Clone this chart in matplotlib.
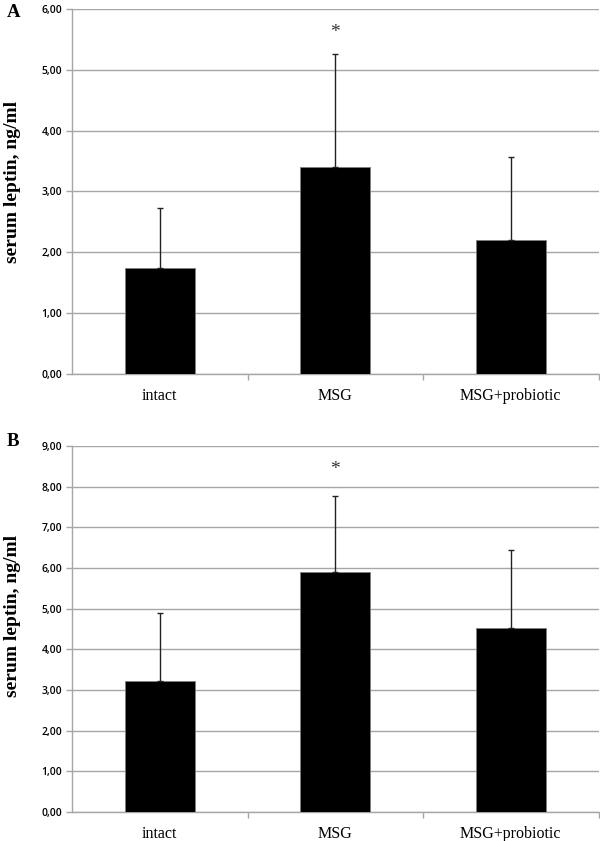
import numpy as np
import matplotlib.pyplot as plt
from matplotlib.ticker import FuncFormatter, FixedLocator

groups = ['intact', 'MSG', 'MSG+probiotic']

# panel A
mean_a = [1.75, 3.41, 2.21]
top_a = [2.73, 5.26, 3.57]   # top of error bar
# panel B
mean_b = [3.22, 5.90, 4.53]
top_b = [4.90, 7.76, 6.45]

star_a = 5.61
star_b = 8.43

fig = plt.figure(figsize=(6, 8.41), dpi=100)

def panel(rect, means, tops, ymax, star_y, letter, letter_y, label_y):
    ax = fig.add_axes(rect)
    x = np.arange(len(groups))
    err = np.array(tops) - np.array(means)
    ax.bar(x, means, width=0.40, color='black', edgecolor='#808080', linewidth=0.6, zorder=3)
    ax.errorbar(x, means, yerr=[np.zeros_like(err), err], fmt='none', ecolor='#222222',
                elinewidth=1.0, capsize=2.3, capthick=1.0, zorder=4)
    ax.text(1, star_y, '*', ha='center', va='center', fontsize=14,
            family='Liberation Serif', color='#333333')
    ax.set_xlim(-0.5, 2.5)
    ax.set_ylim(0, ymax)
    ax.set_yticks(np.arange(0, ymax + 0.01, 1))
    ax.yaxis.set_major_formatter(FuncFormatter(lambda v, p: f'{v:.2f}'.replace('.', ',')))
    ax.yaxis.grid(True, color='#a6a6a6', linewidth=1.0, zorder=0)
    ax.set_xticks(x)
    ax.set_xticklabels(groups, family='Liberation Serif', fontsize=11.5)
    ax.xaxis.set_minor_locator(FixedLocator([0.5, 1.5, 2.5]))
    ax.tick_params(axis='x', which='major', length=0, pad=10)
    ax.tick_params(axis='x', which='minor', length=4, color='#a6a6a6', width=1)
    ax.tick_params(axis='y', length=4, color='#a6a6a6', width=1, pad=3)
    for lab in ax.get_yticklabels():
        lab.set_family('Open Sans')
        lab.set_fontsize(7.5)
        lab.set_fontweight('semibold')
    for s in ['top', 'right']:
        ax.spines[s].set_visible(False)
    for s in ['left', 'bottom']:
        ax.spines[s].set_color('#a6a6a6')
        ax.spines[s].set_linewidth(1.0)
    fig.text(0.021, label_y, 'serum leptin, ng/ml', family='Liberation Serif',
             fontweight='bold', fontsize=14, rotation=90, ha='center', va='center')
    fig.text(0.012, letter_y, letter, family='Liberation Serif',
             fontweight='bold', fontsize=13.5, va='center', ha='left')
    return ax

panel([0.12, 0.5553, 0.8775, 0.434], mean_a, top_a, 6, star_a, 'A', 0.985, 0.7836)
panel([0.12, 0.0345, 0.8775, 0.4352], mean_b, top_b, 9, star_b, 'B', 0.4756, 0.2675)

fig.savefig('out.png', dpi=100)
